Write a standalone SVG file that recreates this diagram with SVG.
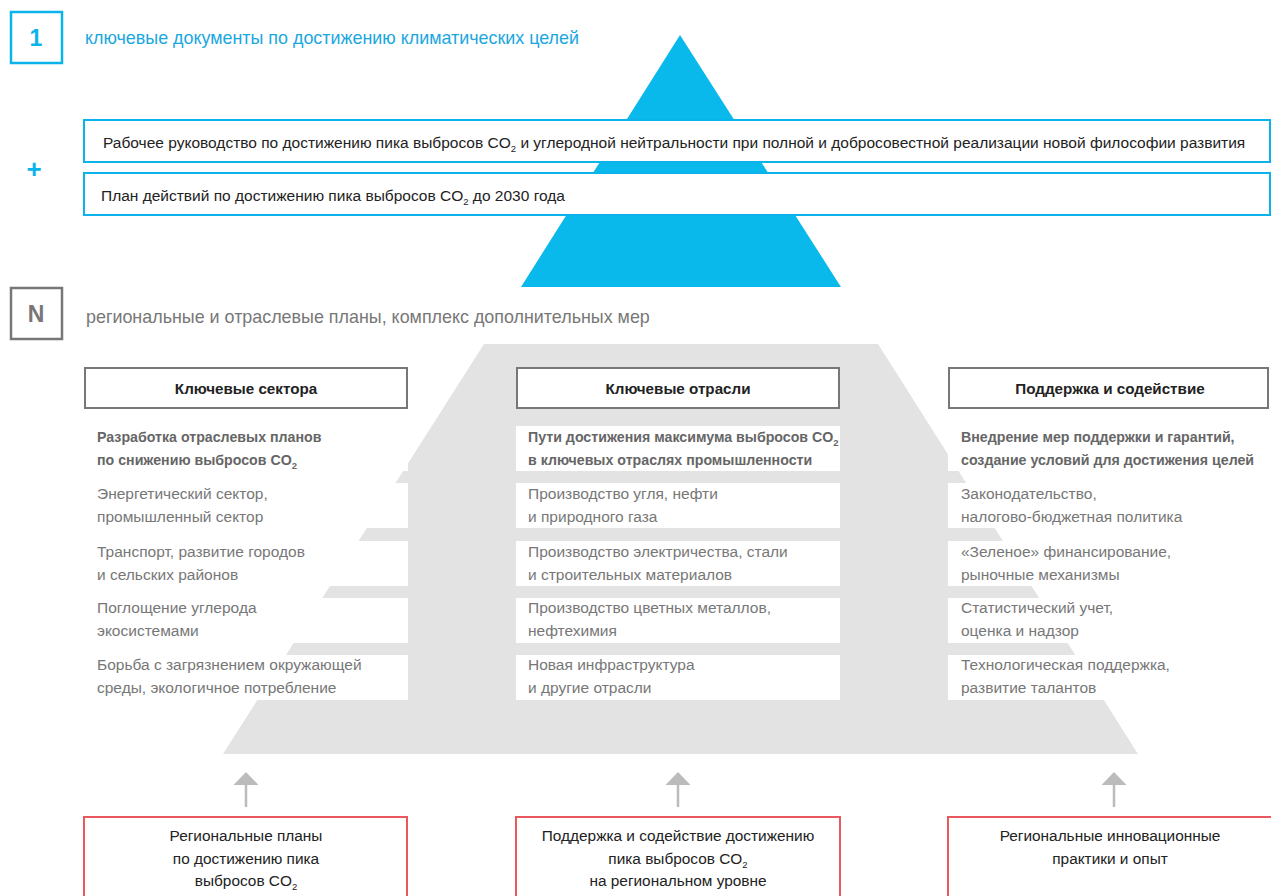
<svg xmlns="http://www.w3.org/2000/svg" width="1271" height="896" viewBox="0 0 1271 896">
  <defs>
    <style>
      text { font-family: "Liberation Sans", Arial, sans-serif; }
      .blue-frame { fill: #ffffff; stroke: #0ab4ea; stroke-width: 2; }
      .gray-frame { fill: #ffffff; stroke: #777777; stroke-width: 2; }
      .red-frame { fill: #ffffff; stroke: #e8585d; stroke-width: 2; }
      .cell { fill: #ffffff; }
      .num { font-size: 23px; font-weight: bold; text-anchor: middle; }
      .lead { font-size: 17.9px; }
      .doc { font-size: 15.5px; fill: #222222; }
      .head { font-size: 15.2px; font-weight: bold; fill: #222222; text-anchor: middle; }
      .bold-item { font-size: 14.2px; font-weight: bold; fill: #666666; }
      .item { font-size: 15.5px; fill: #777777; }
      .src { font-size: 15.4px; fill: #222222; text-anchor: middle; }
      .sub { font-size: 9.5px; }
      .arrow-line { stroke: #bbbbbb; stroke-width: 2.5; fill: none; }
      .arrow-head { fill: #bbbbbb; }
    </style>
  </defs>

  <rect width="1271" height="896" fill="#ffffff"/>

  <!-- Level 1: key documents -->
  <g id="level-1">
    <rect x="11" y="12" width="51" height="51" fill="none" stroke="#0ab4ea" stroke-width="2.5"/>
    <text class="num" x="36" y="46" fill="#0ab4ea">1</text>
    <text class="lead" x="85" y="44" fill="#1aa7e0">ключевые документы по достижению климатических целей</text>
    <polygon points="680,35 521,287 841,287" fill="#0ab9ec"/>
    <text x="34" y="178" font-size="26" font-weight="bold" fill="#0ab4ea" text-anchor="middle">+</text>
  </g>

  <g id="doc-guide">
    <rect class="blue-frame" x="84" y="120" width="1186" height="42"/>
    <text class="doc" x="103" y="148">Рабочее руководство по достижению пика выбросов CO<tspan class="sub" dy="4">2</tspan><tspan dy="-4"> и углеродной нейтральности при полной и добросовестной реализации новой философии развития</tspan></text>
  </g>

  <g id="doc-plan">
    <rect class="blue-frame" x="84" y="173" width="1186" height="42"/>
    <text class="doc" x="101" y="201">План действий по достижению пика выбросов CO<tspan class="sub" dy="4">2</tspan><tspan dy="-4"> до 2030 года</tspan></text>
  </g>

  <!-- Level N: regional and sectoral plans -->
  <g id="level-n">
    <rect x="11" y="288" width="51" height="51" fill="none" stroke="#777777" stroke-width="2.5"/>
    <text class="num" x="36" y="322" fill="#777777">N</text>
    <text class="lead" x="86" y="323" fill="#777777">региональные и отраслевые планы, комплекс дополнительных мер</text>
  </g>

  <g id="pyramid-base">
    <polygon points="484,344 878,344 1138,754 223,754" fill="#e3e3e3"/>
  </g>

  <!-- Column: key sectors -->
  <g id="col-sectors">
    <rect class="gray-frame" x="85" y="368" width="322" height="40"/>
    <text class="head" x="246" y="394">Ключевые сектора</text>
    <rect class="cell" x="84" y="426" width="324" height="45"/>
    <rect class="cell" x="84" y="483" width="324" height="45"/>
    <rect class="cell" x="84" y="541" width="324" height="45"/>
    <rect class="cell" x="84" y="598" width="324" height="45"/>
    <rect class="cell" x="84" y="655" width="324" height="45"/>
    <text class="bold-item" x="97" y="442">Разработка отраслевых планов</text>
    <text class="bold-item" x="97" y="465">по снижению выбросов CO<tspan class="sub" dy="4">2</tspan></text>
    <text class="item" x="97" y="499">Энергетический сектор,</text>
    <text class="item" x="97" y="522">промышленный сектор</text>
    <text class="item" x="97" y="557">Транспорт, развитие городов</text>
    <text class="item" x="97" y="580">и сельских районов</text>
    <text class="item" x="97" y="613">Поглощение углерода</text>
    <text class="item" x="97" y="636">экосистемами</text>
    <text class="item" x="97" y="670">Борьба с загрязнением окружающей</text>
    <text class="item" x="97" y="693">среды, экологичное потребление</text>
  </g>

  <!-- Column: key industries -->
  <g id="col-industries">
    <rect class="gray-frame" x="517" y="368" width="322" height="40"/>
    <text class="head" x="678" y="394">Ключевые отрасли</text>
    <rect class="cell" x="516" y="426" width="324" height="45"/>
    <rect class="cell" x="516" y="483" width="324" height="45"/>
    <rect class="cell" x="516" y="541" width="324" height="45"/>
    <rect class="cell" x="516" y="598" width="324" height="45"/>
    <rect class="cell" x="516" y="655" width="324" height="45"/>
    <text class="bold-item" x="528" y="442" font-size="13.9">Пути достижения максимума выбросов CO<tspan class="sub" dy="4">2</tspan></text>
    <text class="bold-item" x="528" y="465">в ключевых отраслях промышленности</text>
    <text class="item" x="528" y="499">Производство угля, нефти</text>
    <text class="item" x="528" y="522">и природного газа</text>
    <text class="item" x="528" y="557">Производство электричества, стали</text>
    <text class="item" x="528" y="580">и строительных материалов</text>
    <text class="item" x="528" y="613">Производство цветных металлов,</text>
    <text class="item" x="528" y="636">нефтехимия</text>
    <text class="item" x="528" y="670">Новая инфраструктура</text>
    <text class="item" x="528" y="693">и другие отрасли</text>
  </g>

  <!-- Column: support and assistance -->
  <g id="col-support">
    <rect class="gray-frame" x="949" y="368" width="319" height="40"/>
    <text class="head" x="1110" y="394">Поддержка и содействие</text>
    <rect class="cell" x="948" y="426" width="324" height="45"/>
    <rect class="cell" x="948" y="483" width="324" height="45"/>
    <rect class="cell" x="948" y="541" width="324" height="45"/>
    <rect class="cell" x="948" y="598" width="324" height="45"/>
    <rect class="cell" x="948" y="655" width="324" height="45"/>
    <text class="bold-item" x="961" y="442">Внедрение мер поддержки и гарантий,</text>
    <text class="bold-item" x="961" y="465">создание условий для достижения целей</text>
    <text class="item" x="961" y="499">Законодательство,</text>
    <text class="item" x="961" y="522">налогово-бюджетная политика</text>
    <text class="item" x="961" y="557">«Зеленое» финансирование,</text>
    <text class="item" x="961" y="580">рыночные механизмы</text>
    <text class="item" x="961" y="613">Статистический учет,</text>
    <text class="item" x="961" y="636">оценка и надзор</text>
    <text class="item" x="961" y="670">Технологическая поддержка,</text>
    <text class="item" x="961" y="693">развитие талантов</text>
  </g>

  <!-- Upward connectors from regional inputs -->
  <g id="connectors">
    <line class="arrow-line" x1="246" y1="807" x2="246" y2="784"/>
    <polygon class="arrow-head" points="246,772 258.5,785 233.5,785"/>
    <line class="arrow-line" x1="678" y1="807" x2="678" y2="784"/>
    <polygon class="arrow-head" points="678,772 690.5,785 665.5,785"/>
    <line class="arrow-line" x1="1114" y1="807" x2="1114" y2="784"/>
    <polygon class="arrow-head" points="1114,772 1126.5,785 1101.5,785"/>
  </g>

  <!-- Regional inputs -->
  <g id="src-regional-plans">
    <rect class="red-frame" x="84" y="817" width="323" height="100"/>
    <text class="src" x="246" y="841">Региональные планы</text>
    <text class="src" x="246" y="864">по достижению пика</text>
    <text class="src" x="246" y="886">выбросов CO<tspan class="sub" dy="4">2</tspan></text>
  </g>

  <g id="src-regional-support">
    <rect class="red-frame" x="516" y="817" width="324" height="100"/>
    <text class="src" x="678" y="841">Поддержка и содействие достижению</text>
    <text class="src" x="678" y="864">пика выбросов CO<tspan class="sub" dy="4">2</tspan></text>
    <text class="src" x="678" y="886">на региональном уровне</text>
  </g>

  <g id="src-regional-practice">
    <rect class="red-frame" x="948" y="817" width="340" height="100"/>
    <text class="src" x="1110" y="841">Региональные инновационные</text>
    <text class="src" x="1110" y="864">практики и опыт</text>
  </g>
</svg>
